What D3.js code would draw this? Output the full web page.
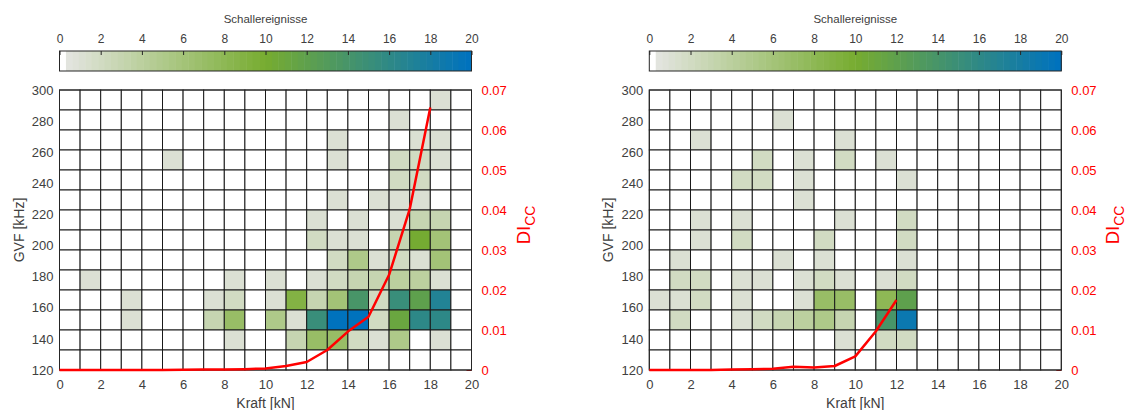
<!DOCTYPE html>
<html>
<head>
<meta charset="utf-8">
<script src="https://cdn.jsdelivr.net/npm/d3@7"></script>
<style>
  body { margin: 0; background: #fff; }
  svg text { font-family: "Liberation Sans", Arial, Helvetica, sans-serif; }
</style>
</head>
<body>
<svg id="chart" width="1128" height="410"></svg>
<script>
// ---- data -------------------------------------------------------------
// Kraft bins: 20 bins of 1 kN between 0 and 20 kN
const kraftDomain = [0, 20];
const kraftTicks = d3.range(0, 21, 2);
// GVF bins: 14 equal bins between 120 and 300 kHz
const gvfDomain = [120, 300];
const gvfBinCount = 14;
const gvfTicks = d3.range(120, 301, 20);
// DI_CC axis
const diDomain = [0, 0.07];
const diTicks = [0, 0.01, 0.02, 0.03, 0.04, 0.05, 0.06, 0.07];
// colour bar
const countDomain = [0, 20];
const countTicks = d3.range(0, 21, 2);

// event counts, one row per GVF bin (highest frequency first), one entry per kN bin
const countsLeft = [
  [0,0,0,0,0,0,0,0,0,0,0,0,0,0,0,0,0,0,1,0],
  [0,0,0,0,0,0,0,0,0,0,0,0,0,0,0,0,1,0,0,0],
  [0,0,0,0,0,0,0,0,0,0,0,0,0,1,0,0,0,1,1,0],
  [0,0,0,0,0,1,0,0,0,0,0,0,0,1,0,0,2,2,1,0],
  [0,0,0,0,0,0,0,0,0,0,0,0,0,0,0,0,2,2,0,0],
  [0,0,0,0,0,0,0,0,0,0,0,0,0,1,0,1,1,1,0,0],
  [0,0,0,0,0,0,0,0,0,0,0,0,1,0,1,0,1,3,3,0],
  [0,0,0,0,0,0,0,0,0,0,0,0,2,1,1,0,3,10,6,0],
  [0,0,0,0,0,0,0,0,0,0,0,0,0,2,5,1,2,1,6,0],
  [0,1,0,0,0,0,0,0,1,0,1,0,1,2,3,3,4,4,1,0],
  [0,0,0,1,0,0,0,1,2,0,1,9,3,6,14,2,15,12,17,0],
  [0,0,0,1,0,0,0,3,7,0,5,1,15,20,20,2,11,16,16,0],
  [0,0,0,0,0,0,0,0,1,0,0,3,7,7,2,1,5,0,1,0],
  [0,0,0,0,0,0,0,0,0,0,0,0,0,0,0,0,0,0,0,0]
];
const countsRight = [
  [0,0,0,0,0,0,0,0,0,0,0,0,0,0,0,0,0,0,0,0],
  [0,0,0,0,0,0,1,0,0,0,0,0,0,0,0,0,0,0,0,0],
  [0,0,1,0,0,0,0,0,0,1,0,0,0,0,0,0,0,0,0,0],
  [0,0,0,0,0,2,0,1,0,2,0,1,0,0,0,0,0,0,0,0],
  [0,0,0,0,2,2,0,1,0,0,0,0,1,0,0,0,0,0,0,0],
  [0,0,0,0,0,0,0,1,0,0,0,0,0,0,0,0,0,0,0,0],
  [0,0,1,0,1,0,0,0,0,1,0,0,2,0,0,0,0,0,0,0],
  [0,0,1,0,2,0,0,0,2,0,0,0,2,0,0,0,0,0,0,0],
  [0,1,0,0,0,0,1,0,1,0,0,0,1,0,0,0,0,0,0,0],
  [0,2,2,0,1,1,0,1,2,1,0,1,2,0,0,0,0,0,0,0],
  [1,1,2,0,1,0,0,1,7,7,0,8,12,0,0,0,0,0,0,0],
  [0,2,0,0,1,2,3,4,5,3,0,14,19,0,0,0,0,0,0,0],
  [0,0,0,0,0,0,0,0,0,1,0,2,2,0,0,0,0,0,0,0],
  [0,0,0,0,0,0,0,0,0,0,0,0,0,0,0,0,0,0,0,0]
];

// DI_CC damage indicator per kN step
const diccKraftLeft = d3.range(0, 19);
const diccLeft = [0, 0, 0, 0, 0, 0, 0.00005, 0.0001, 0.0001, 0.0002, 0.0004,
                  0.001, 0.002, 0.005, 0.0096, 0.0133, 0.0238, 0.0402, 0.0656];
const diccKraftRight = d3.range(0, 13);
const diccRight = [0, 0, 0, 0, 0.0001, 0.0002, 0.0003, 0.0008, 0.0006, 0.001,
                   0.0034, 0.0097, 0.0175];

// ---- colour map: 64 steps, first step white, grey -> green -> blue ----------
const nLevels = 64;
const rampColor = d3.scaleLinear()
  .domain([0, 10, 20])
  .range(["#e6e6e4", "#77ac30", "#0072bd"])
  .interpolate(d3.interpolateRgb);
function levelOf(v) {
  return Math.min(nLevels - 1, Math.floor((v - countDomain[0]) / (countDomain[1] - countDomain[0]) * nLevels));
}
function levelColor(k) {
  if (k <= 0) return "#ffffff";
  return rampColor(k / (nLevels - 1) * (countDomain[1] - countDomain[0]));
}

// ---- layout ------------------------------------------------------------
const svg = d3.select("#chart");
const textColor = "#404040";
const red = "#ff0000";
const plotW = 412, plotH = 280, plotTop = 90;
const panels = [
  { left: 59.5, counts: countsLeft, kraft: diccKraftLeft, dicc: diccLeft },
  { left: 649.3, counts: countsRight, kraft: diccKraftRight, dicc: diccRight }
];

panels.forEach(p => {
  const g = svg.append("g").attr("transform", `translate(${p.left},0)`);

  const x = d3.scaleLinear().domain(kraftDomain).range([0, plotW]);
  const y = d3.scaleLinear().domain(gvfDomain).range([plotTop + plotH, plotTop]);
  const yDi = d3.scaleLinear().domain(diDomain).range([plotTop + plotH, plotTop]);
  const binH = (gvfDomain[1] - gvfDomain[0]) / gvfBinCount;

  // right DI_CC axis (ticks sit underneath the cells)
  const rAxis = g.append("g").attr("transform", `translate(${plotW},0)`)
    .call(d3.axisRight(yDi).tickValues(diTicks).tickSizeInner(-5).tickSizeOuter(0).tickPadding(10)
      .tickFormat(d => d === 0 ? "0" : d3.format(".2f")(d)));
  rAxis.select(".domain").remove();
  rAxis.selectAll("line").attr("stroke", red);
  rAxis.selectAll("text").attr("fill", red).style("font-size", "13px");

  // heat map cells
  const cells = [];
  p.counts.forEach((row, i) => {
    const lo = gvfDomain[1] - (i + 1) * binH;
    row.forEach((v, j) => cells.push({ k0: j, k1: j + 1, f0: lo, f1: lo + binH, v }));
  });
  g.append("g").selectAll("rect").data(cells).join("rect")
    .attr("x", d => x(d.k0))
    .attr("y", d => y(d.f1))
    .attr("width", d => x(d.k1) - x(d.k0))
    .attr("height", d => y(d.f0) - y(d.f1))
    .attr("fill", d => levelColor(levelOf(d.v)))
    .attr("stroke", "#1a1a1a")
    .attr("stroke-width", 1);

  // outer box
  g.append("rect")
    .attr("x", 0).attr("y", plotTop).attr("width", plotW).attr("height", plotH)
    .attr("fill", "none").attr("stroke", "#262626").attr("stroke-width", 1);

  // x axis
  const xAxis = g.append("g").attr("transform", `translate(0,${plotTop + plotH})`)
    .call(d3.axisBottom(x).tickValues(kraftTicks).tickSize(0).tickPadding(10).tickFormat(d3.format("d")));
  xAxis.select(".domain").remove();
  xAxis.selectAll("text").attr("fill", textColor).style("font-size", "13px");

  // left y axis
  const yAxis = g.append("g")
    .call(d3.axisLeft(y).tickValues(gvfTicks).tickSize(0).tickPadding(6).tickFormat(d3.format("d")));
  yAxis.select(".domain").remove();
  yAxis.selectAll("text").attr("fill", textColor).style("font-size", "13px");

  // axis titles
  g.append("text")
    .attr("x", plotW / 2).attr("y", 408)
    .attr("text-anchor", "middle").attr("fill", textColor).style("font-size", "14px")
    .text("Kraft [kN]");
  g.append("text")
    .attr("transform", `translate(${-36},${plotTop + plotH / 2}) rotate(-90)`)
    .attr("text-anchor", "middle").attr("fill", textColor).style("font-size", "14px")
    .text("GVF [kHz]");
  const diLabel = g.append("text")
    .attr("transform", `translate(${plotW + 58},${plotTop + plotH / 2 - 5}) rotate(-90)`)
    .attr("text-anchor", "middle").attr("fill", red).style("font-size", "18.5px");
  diLabel.append("tspan").text("DI");
  diLabel.append("tspan").attr("dy", 5).style("font-size", "14px").text("CC");

  // DI_CC curve
  const line = d3.line().x(d => x(d[0])).y(d => yDi(d[1]));
  g.append("path")
    .datum(p.kraft.map((k, i) => [k, p.dicc[i]]))
    .attr("d", line)
    .attr("fill", "none").attr("stroke", red).attr("stroke-width", 2.5)
    .attr("stroke-linejoin", "round");

  // colour bar
  const cbTop = 51, cbH = 20;
  const xc = d3.scaleLinear().domain(countDomain).range([0, plotW]);
  const levels = d3.range(nLevels);
  const step = (countDomain[1] - countDomain[0]) / nLevels;
  g.append("g").selectAll("rect").data(levels).join("rect")
    .attr("x", k => xc(k * step))
    .attr("y", cbTop)
    .attr("width", k => xc((k + 1) * step) - xc(k * step) + 0.5)
    .attr("height", cbH)
    .attr("fill", k => levelColor(k));
  g.append("rect")
    .attr("x", 0).attr("y", cbTop).attr("width", plotW).attr("height", cbH)
    .attr("fill", "none").attr("stroke", "#262626").attr("stroke-width", 1);
  const cAxis = g.append("g").attr("transform", `translate(0,${cbTop})`)
    .call(d3.axisTop(xc).tickValues(countTicks).tickSizeInner(-4).tickSizeOuter(0).tickPadding(8).tickFormat(d3.format("d")));
  cAxis.select(".domain").remove();
  cAxis.selectAll("line").attr("stroke", "#262626");
  cAxis.selectAll("text").attr("fill", textColor).style("font-size", "12px");
  g.append("text")
    .attr("x", plotW / 2).attr("y", 23)
    .attr("text-anchor", "middle").attr("fill", textColor).style("font-size", "11.5px")
    .text("Schallereignisse");
});
</script>
</body>
</html>
